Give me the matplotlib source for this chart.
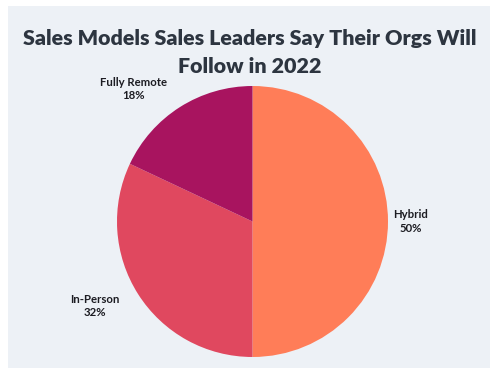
import matplotlib
matplotlib.use("Agg")
import matplotlib.pyplot as plt

# Data
labels = ["Hybrid", "In-Person", "Fully Remote"]
shares = [50, 32, 18]
colors = ["#FF7D58", "#E0485F", "#A8145F"]

# label anchor points (axes data coords, pie radius = 1)
label_pos = [(1.17, 0.0), (-1.166, -0.624), (-0.875, 0.978)]

fig = plt.figure(figsize=(5, 3.73), dpi=100)
fig.patch.set_facecolor("white")

# light panel behind the chart
bg = fig.add_axes([8 / 500, 5 / 373, 482 / 500, 362 / 373], zorder=-1)
bg.set_facecolor("#EDF1F6")
bg.set_xticks([])
bg.set_yticks([])
for s in bg.spines.values():
    s.set_visible(False)

fig.text(0.5, 1 - 52.5 / 373, "Sales Models Sales Leaders Say Their Orgs Will\nFollow in 2022",
         ha="center", va="center", fontsize=15.4, fontweight="heavy",
         family="Lato", color="#2D3540", linespacing=1.58)

ax = fig.add_axes([117 / 500, 16 / 373, 271 / 500, 271 / 373])
ax.pie(shares, colors=colors, startangle=90, counterclock=False, radius=1,
       wedgeprops=dict(linewidth=0))
ax.set_xlim(-1, 1)
ax.set_ylim(-1, 1)
ax.set_aspect("equal")
ax.axis("off")

for lab, val, (x, y) in zip(labels, shares, label_pos):
    ax.text(x, y, f"{lab}\n{val}%", ha="center", va="center", fontsize=8.2,
            fontweight="bold", family="Lato", color="#1C1C22",
            linespacing=1.3, clip_on=False)

fig.savefig("out.png", dpi=100)
